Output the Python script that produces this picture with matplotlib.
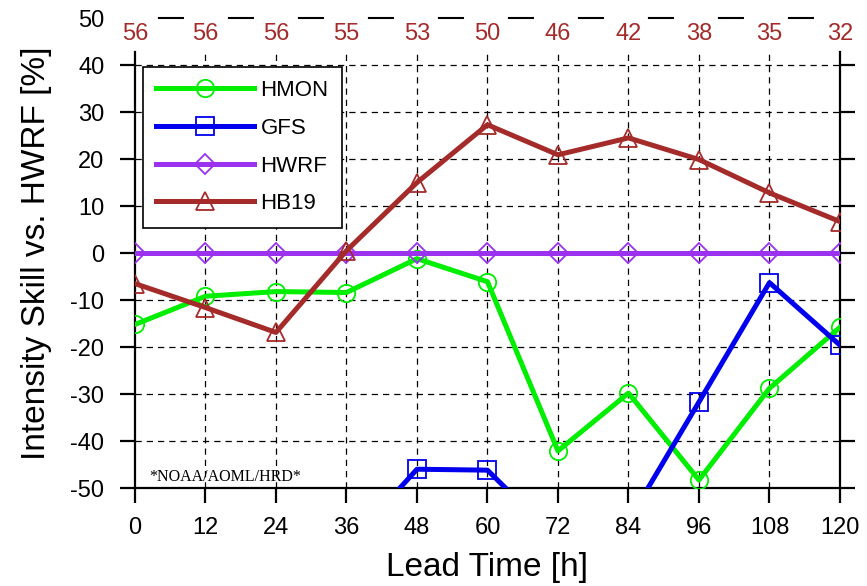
import numpy as np
import matplotlib.pyplot as plt

plt.rcParams['font.family'] = ['Liberation Sans', 'DejaVu Sans']
plt.rcParams['axes.unicode_minus'] = False

lead_time = [0, 12, 24, 36, 48, 60, 72, 84, 96, 108, 120]
sample_size = [56, 56, 56, 55, 53, 50, 46, 42, 38, 35, 32]

hmon = [-15.2, -9.2, -8.2, -8.4, -1.2, -6.1, -42.1, -29.8, -48.3, -28.8, -15.8]
# gfs falls below the plot bottom at several lead times
gfs = [np.nan, np.nan, np.nan, -62.5, -46.0, -46.2, -61.0, -57.0, -31.7, -6.3, -19.6]
hwrf = [0, 0, 0, 0, 0, 0, 0, 0, 0, 0, 0]
hb19 = [-6.5, -11.6, -16.9, 0.5, 15.0, 27.3, 20.9, 24.5, 19.9, 12.8, 6.7]

series = [
    ('HMON', hmon, '#00ee00', 'o'),
    ('GFS', gfs, '#0000ee', 's'),
    ('HWRF', hwrf, '#9a32f0', 'D'),
    ('HB19', hb19, '#a52a2a', '^'),
]

yticks = list(range(-50, 51, 10))
spine_top = 42.8

fig = plt.figure(figsize=(8.67, 5.86), dpi=100)
ax = fig.add_axes([0.1557, 0.1672, 0.8131, 0.802])
ax.set_xlim(0, 120)
ax.set_ylim(-50, 50)

# grid
ax.vlines(lead_time[1:-1], -50, spine_top, colors='black', linewidth=0.9,
          linestyles=(0, (5, 4)), zorder=1)
ax.hlines(yticks[1:-1], 0, 120, colors='black', linewidth=0.9,
          linestyles=(0, (5, 4)), zorder=1)

for name, vals, color, marker in series:
    ms = 10.5 if marker == 'D' else 12.5
    ax.plot(lead_time, vals, color=color, linewidth=3.6, marker=marker,
            markersize=ms, markerfacecolor='none', markeredgecolor=color,
            markeredgewidth=1.3, label=name, zorder=3)

# dashed top line and sample counts
ax.plot([0, 120], [50, 50], color='black', linewidth=1.5,
        linestyle=(22.6, (12.5, 21.1)), clip_on=False)
for x, n in zip(lead_time, sample_size):
    ax.text(x, 46.5, str(n), color='#a52a2a', fontsize=17,
            ha='center', va='center')

ax.text(2.4, -47.6, '*NOAA/AOML/HRD*', family='Liberation Serif',
        fontsize=11.5, ha='left', va='center')

ax.spines['top'].set_visible(False)
for s in ['left', 'right', 'bottom']:
    ax.spines[s].set_linewidth(1.6)
ax.spines['left'].set_bounds(-50, spine_top)
ax.spines['right'].set_bounds(-50, spine_top)

ax.set_xticks(lead_time)
ax.set_yticks(yticks)
ax.tick_params(axis='both', labelsize=17, width=1.6, length=11,
               direction='out')
ax.tick_params(axis='y', right=True, pad=11)
ax.tick_params(axis='x', pad=10)
top_tick = ax.yaxis.get_major_ticks()[-1]
top_tick.tick1line.set_visible(False)
top_tick.tick2line.set_visible(False)

ax.set_xlabel('Lead Time [h]', fontsize=24, labelpad=9)
ax.set_ylabel('Intensity Skill vs. HWRF [%]', fontsize=24, labelpad=13)

leg = ax.legend(loc='upper left', bbox_to_anchor=(0.011, 0.896),
                borderaxespad=0, fontsize=16, handlelength=4.4,
                handletextpad=0.3, labelspacing=0.75, fancybox=False,
                edgecolor='black', framealpha=1, borderpad=0.6)
leg.get_frame().set_linewidth(1.2)

fig.savefig('out.png', dpi=100)
